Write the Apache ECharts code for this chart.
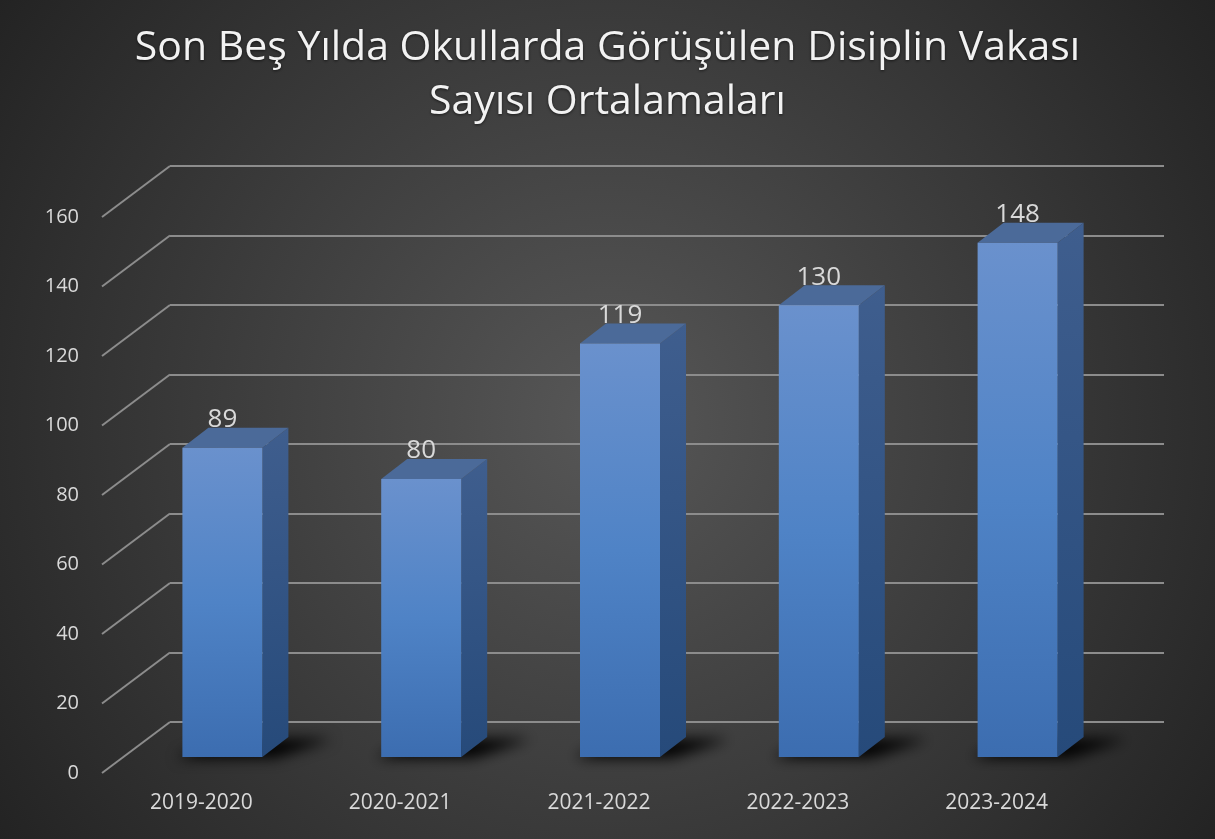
<!DOCTYPE html>
<html>
<head>
<meta charset="utf-8">
<script src="https://cdn.jsdelivr.net/npm/echarts@6/dist/echarts.min.js"></script>
<style>
  html, body { margin: 0; padding: 0; background: #2a2a2a; }
  #chart { width: 1215px; height: 839px; }
</style>
</head>
<body>
<div id="chart"></div>
<script>
// data
var categories = ['2019-2020', '2020-2021', '2021-2022', '2022-2023', '2023-2024']
var values = [89, 80, 119, 130, 148]
var yTicks = [0, 20, 40, 60, 80, 100, 120, 140, 160]

var titleText = 'Son Beş Yılda Okullarda Görüşülen Disiplin Vakası\nSayısı Ortalamaları'

// 3d look: offset of the back wall and of the bars inside the depth
var WALL_DX = 68, WALL_DY = 51
var BAR_SHIFT_X = 21, BAR_SHIFT_Y = 16
var BAR_DX = 26, BAR_DY = 20
var BAR_HALF = 40
var FONT = 'Open Sans'
var FAR = 3000 // shadow trick: draw shape off screen, cast its shadow back

var chart = echarts.init(document.getElementById('chart'))

function renderGridDiag(params, api) {
  var cs = params.coordSys
  var p = api.coord([0, api.value(0)])
  return {
    type: 'line',
    shape: { x1: cs.x, y1: p[1], x2: cs.x + WALL_DX, y2: p[1] - WALL_DY },
    style: { stroke: '#8c8c8c', lineWidth: 2 },
  }
}

function renderBar(params, api) {
  var idx = api.value(0)
  var val = api.value(1)
  var base = api.coord([idx, 0])
  var top = api.coord([idx, val])
  var cx = base[0] + BAR_SHIFT_X
  var yb = base[1] - BAR_SHIFT_Y
  var yt = top[1] - BAR_SHIFT_Y
  var xl = cx - BAR_HALF, xr = cx + BAR_HALF

  return {
    type: 'group',
    children: [
      {
        // soft floor shadow
        type: 'polygon',
        shape: {
          points: [
            [xl - 6 - FAR, yb + 1], [xr + 12 - FAR, yb + 1],
            [xr + BAR_DX + 44 - FAR, yb - BAR_DY + 2], [xl + BAR_DX + 6 - FAR, yb - BAR_DY + 2],
          ],
        },
        style: {
          fill: '#000',
          shadowBlur: 14,
          shadowColor: 'rgba(0,0,0,1)',
          shadowOffsetX: FAR,
        },
      },
      {
        // right side
        type: 'polygon',
        shape: { points: [[xr, yt], [xr + BAR_DX, yt - BAR_DY], [xr + BAR_DX, yb - BAR_DY], [xr, yb]] },
        style: {
          fill: new echarts.graphic.LinearGradient(0, 0, 0, 1, [
            { offset: 0, color: '#3f5e8e' },
            { offset: 1, color: '#264a7a' },
          ]),
        },
      },
      {
        // top face
        type: 'polygon',
        shape: { points: [[xl, yt], [xl + BAR_DX, yt - BAR_DY], [xr + BAR_DX, yt - BAR_DY], [xr, yt]] },
        style: { fill: '#4b6a99' },
      },
      {
        // front face
        type: 'rect',
        shape: { x: xl, y: yt, width: xr - xl, height: yb - yt },
        style: {
          fill: new echarts.graphic.LinearGradient(0, 0, 0, 1, [
            { offset: 0, color: '#6a91cd' },
            { offset: 0.5, color: '#4f83c6' },
            { offset: 1, color: '#3c6db0' },
          ]),
        },
      },
      {
        type: 'text',
        style: {
          x: cx,
          y: yt - BAR_DY + 5,
          text: String(val),
          align: 'center',
          verticalAlign: 'bottom',
          fill: '#d9d9d9',
          fontSize: 26,
          fontFamily: FONT,
        },
      },
    ],
  }
}

chart.setOption({
  backgroundColor: {
    type: 'radial',
    x: 0.5,
    y: 0.5,
    r: 0.95,
    colorStops: [
      { offset: 0, color: '#575757' },
      { offset: 1, color: '#1f1f1f' },
    ],
  },
  title: {
    text: titleText,
    left: 'center',
    top: 16,
    textStyle: {
      color: '#f2f2f2',
      fontSize: 41,
      fontWeight: 'normal',
      fontFamily: FONT,
      lineHeight: 54,
      textShadowColor: 'rgba(0,0,0,0.6)',
      textShadowBlur: 3,
      textShadowOffsetY: 1,
    },
  },
  grid: [
    // front plane
    { left: 102, top: 217, width: 994, height: 556 },
    // back wall
    { left: 102 + WALL_DX, top: 217 - WALL_DY, width: 994, height: 556 },
  ],
  xAxis: [
    {
      gridIndex: 0,
      type: 'category',
      data: categories,
      axisLine: { show: false },
      axisTick: { show: false },
      axisLabel: { color: '#d9d9d9', fontSize: 21, fontFamily: FONT, margin: 20 },
    },
    { gridIndex: 1, type: 'category', data: categories, show: false },
  ],
  yAxis: [
    {
      gridIndex: 0,
      type: 'value',
      min: 0,
      max: 160,
      interval: 20,
      splitLine: { show: false },
      axisLine: { show: false },
      axisTick: { show: false },
      axisLabel: { color: '#d9d9d9', fontSize: 20, fontFamily: FONT, margin: 23 },
    },
    {
      gridIndex: 1,
      type: 'value',
      min: 0,
      max: 160,
      interval: 20,
      axisLine: { show: false },
      axisTick: { show: false },
      axisLabel: { show: false },
      splitLine: { lineStyle: { color: '#8c8c8c', width: 2 } },
    },
  ],
  series: [
    {
      type: 'custom',
      xAxisIndex: 0,
      yAxisIndex: 0,
      renderItem: renderGridDiag,
      data: yTicks.map(function (t) { return [t] }),
      encode: { y: 0 },
      silent: true,
      z: 1,
    },
    {
      type: 'custom',
      xAxisIndex: 0,
      yAxisIndex: 0,
      renderItem: renderBar,
      data: values.map(function (v, i) { return [i, v] }),
      encode: { x: 0, y: 1 },
      z: 3,
    },
  ],
})
</script>
</body>
</html>
